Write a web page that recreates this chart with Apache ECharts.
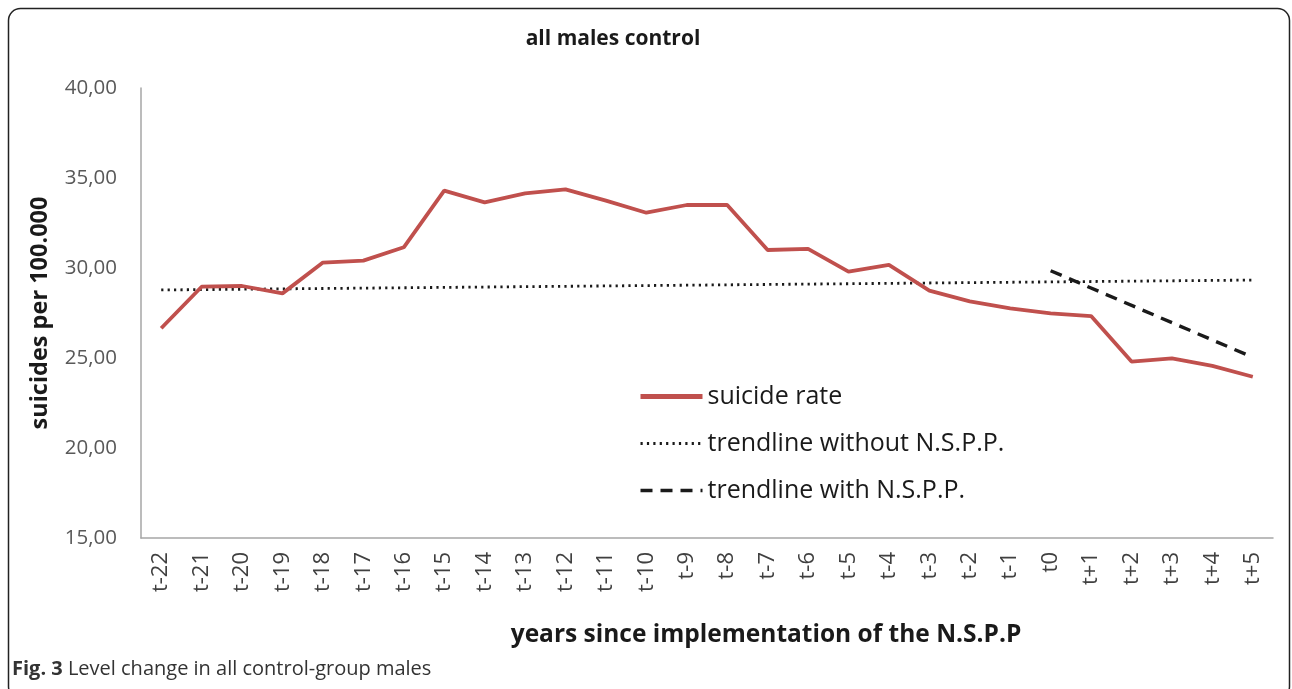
<!DOCTYPE html>
<html>
<head>
<meta charset="utf-8">
<script src="https://cdn.jsdelivr.net/npm/echarts@6/dist/echarts.min.js"></script>
<style>
html,body{margin:0;padding:0;background:#fff;}
#c{width:1292px;height:689px;}
</style>
</head>
<body>
<div id="c"></div>
<script>
const categories = ['t-22','t-21','t-20','t-19','t-18','t-17','t-16','t-15','t-14','t-13','t-12','t-11','t-10','t-9','t-8','t-7','t-6','t-5','t-4','t-3','t-2','t-1','t0','t+1','t+2','t+3','t+4','t+5'];
const suicideRate = [26.65,28.96,29.0,28.59,30.3,30.41,31.15,34.3,33.65,34.15,34.37,33.74,33.07,33.5,33.5,31.0,31.06,29.8,30.17,28.74,28.15,27.76,27.48,27.33,24.8,24.98,24.56,23.96];
// trendline without N.S.P.P.: endpoints read at t-22 and t+5
const trendWithoutStart = 28.78;
const trendWithoutEnd = 29.33;
// trendline with N.S.P.P.: endpoints read at t0 and t+5
const trendWithStart = 29.85;
const trendWithEnd = 25.04;
const yTicks = [15,20,25,30,35,40];

const trendWithout = categories.map((c,i)=> i===0 ? trendWithoutStart : (i===categories.length-1 ? trendWithoutEnd : null));
const trendWith = categories.map((c)=> c==='t0' ? trendWithStart : (c==='t+5' ? trendWithEnd : null));

const FONT = '"Open Sans", "Liberation Sans", sans-serif';
const chart = echarts.init(document.getElementById('c'), null, {renderer:'canvas'});
chart.setOption({
  animation:false,
  backgroundColor:'#fff',
  title:{
    text:'all males control',
    left:608, top:24, textAlign:'center',
    textStyle:{fontFamily:FONT, fontSize:21, fontWeight:'bold', color:'#1a1a1a'}
  },
  grid:{left:141, right:19, top:88, bottom:151, containLabel:false},
  legend:{
    orient:'vertical', left:638, top:384, padding:0,
    itemWidth:62, itemHeight:14, itemGap:22,
    itemStyle:{opacity:0},
    textStyle:{fontFamily:FONT, fontSize:25, lineHeight:25, color:'#1a1a1a'},
    data:[
      {name:'suicide rate', lineStyle:{width:5}},
      {name:'trendline without N.S.P.P.', lineStyle:{width:2.8}},
      {name:'trendline with N.S.P.P.', lineStyle:{width:3.5}}
    ]
  },
  xAxis:{
    type:'category', data:categories, boundaryGap:true,
    axisLine:{lineStyle:{color:'#a6a6a6', width:1.5}},
    axisTick:{show:false},
    axisLabel:{rotate:90, fontFamily:FONT, fontSize:22, color:'#404040', margin:14, interval:0},
    name:'years since implementation of the N.S.P.P',
    nameLocation:'middle', nameGap:85,
    nameTextStyle:{fontFamily:FONT, fontSize:24.5, fontWeight:'bold', color:'#1a1a1a', padding:[0,0,0,118]}
  },
  yAxis:{
    type:'value', min:15, max:40, interval:5,
    axisLine:{show:true, lineStyle:{color:'#a6a6a6', width:1.5}},
    axisTick:{show:false},
    splitLine:{show:false},
    axisLabel:{fontFamily:FONT, fontSize:20.5, color:'#595959', margin:24,
      formatter:(v)=> yTicks.includes(v) ? v.toFixed(2).replace('.',',') : ''},
    name:'suicides per 100.000',
    nameLocation:'middle', nameGap:89, nameRotate:90,
    nameTextStyle:{fontFamily:FONT, fontSize:23.5, fontWeight:'bold', color:'#1a1a1a'}
  },
  series:[
    {name:'suicide rate', type:'line', data:suicideRate, symbol:'none',
     lineStyle:{color:'#C0504D', width:3.8}, itemStyle:{color:'#C0504D'}, z:3},
    {name:'trendline without N.S.P.P.', type:'line', data:trendWithout, connectNulls:true, symbol:'none',
     lineStyle:{color:'#1a1a1a', width:2.8, type:[2.2,4.2]}, itemStyle:{color:'#1a1a1a'}, z:2},
    {name:'trendline with N.S.P.P.', type:'line', data:trendWith, connectNulls:true, symbol:'none',
     lineStyle:{color:'#1a1a1a', width:3.4, type:[12,8]}, itemStyle:{color:'#1a1a1a'}, z:2}
  ],
  graphic:[
    {type:'rect', shape:{x:8.5, y:8.5, width:1281, height:690, r:12},
     style:{fill:'none', stroke:'#222', lineWidth:1.5}, silent:true, z:-1},
    {type:'text', left:12, top:659,
     style:{text:'{b|Fig. 3} Level change in all control-group males',
       rich:{b:{fontFamily:FONT, fontSize:20, fontWeight:'bold', fill:'#333'}},
       fontFamily:FONT, fontSize:20, fill:'#333'}}
  ]
});
</script>
</body>
</html>
